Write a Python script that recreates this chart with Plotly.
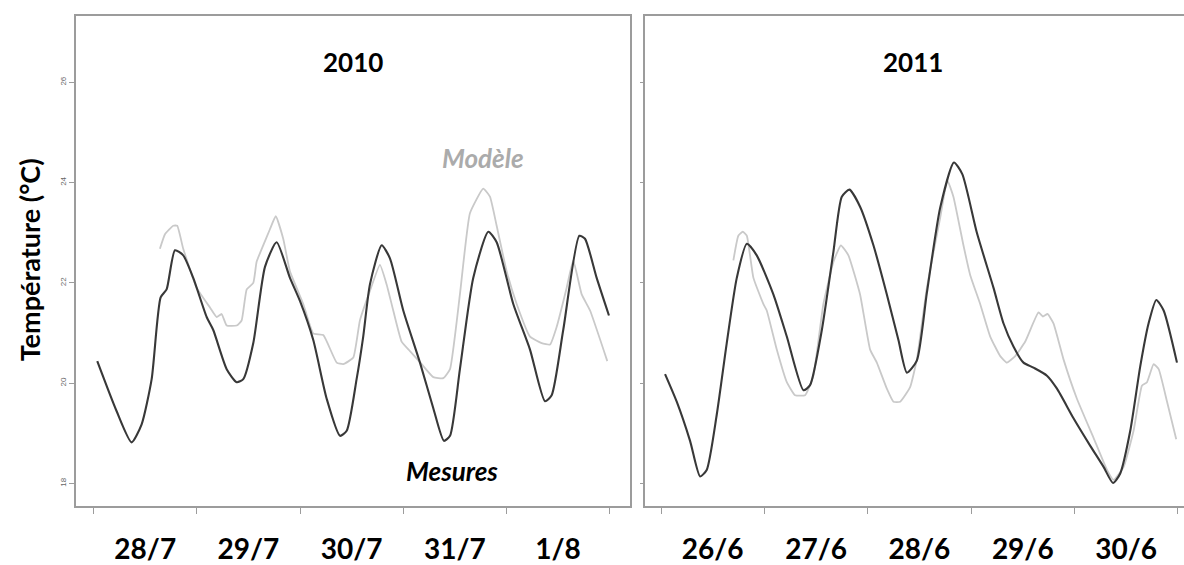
import pandas as pd
import plotly.graph_objects as go

W, H = 1184, 565

# ---- 2010 : time in days from 28/7 00:00 ----
t_mes_2010 = [0.035, 0.223, 0.368, 0.465, 0.562, 0.649, 0.707, 0.788, 0.868, 0.965,
              1.095, 1.159, 1.289, 1.386, 1.450, 1.547, 1.660, 1.773, 1.902, 1.999,
              2.128, 2.258, 2.387, 2.452, 2.548, 2.612, 2.677, 2.791, 2.871, 3.000,
              3.162, 3.291, 3.394, 3.453, 3.549, 3.678, 3.824, 3.905, 4.066, 4.228,
              4.373, 4.438, 4.550, 4.706, 4.761, 4.874, 4.993]
mes_2010 = [20.44, 19.44, 18.82, 19.18, 20.08, 21.71, 21.87, 22.65, 22.55, 22.10,
            21.32, 21.06, 20.28, 20.02, 20.08, 20.80, 22.32, 22.81, 22.10, 21.64,
            20.86, 19.69, 18.95, 19.05, 20.08, 20.93, 21.97, 22.75, 22.49, 21.45,
            20.41, 19.50, 18.85, 18.95, 20.28, 22.10, 23.02, 22.81, 21.58, 20.67,
            19.64, 19.76, 21.06, 22.94, 22.88, 22.10, 21.35]

t_mod_2010 = [0.642, 0.691, 0.771, 0.810, 0.868, 0.998, 1.127, 1.192, 1.240, 1.289,
              1.386, 1.434, 1.483, 1.547, 1.579, 1.643, 1.708, 1.764, 1.837, 1.902,
              2.031, 2.128, 2.225, 2.355, 2.419, 2.516, 2.580, 2.677, 2.774, 2.839,
              2.903, 2.984, 3.065, 3.178, 3.291, 3.388, 3.453, 3.549, 3.646, 3.775,
              3.840, 3.905, 4.002, 4.099, 4.228, 4.341, 4.422, 4.486, 4.583, 4.647,
              4.729, 4.810, 4.977]
mod_2010 = [22.68, 22.97, 23.14, 23.14, 22.68, 21.90, 21.51, 21.32, 21.38, 21.15,
            21.15, 21.25, 21.87, 22.00, 22.42, 22.75, 23.07, 23.33, 22.88, 22.23,
            21.58, 20.99, 20.96, 20.41, 20.38, 20.51, 21.25, 21.84, 22.36, 21.97,
            21.45, 20.83, 20.64, 20.38, 20.12, 20.10, 20.28, 21.77, 23.39, 23.88,
            23.72, 23.14, 22.23, 21.58, 20.93, 20.80, 20.77, 21.12, 21.90, 22.45,
            21.77, 21.45, 20.44]

# ---- 2011 : time in days from 26/6 00:00 ----
t_mes_2011 = [0.039, 0.152, 0.281, 0.378, 0.442, 0.539, 0.636, 0.733, 0.830, 0.926,
              1.087, 1.217, 1.378, 1.442, 1.556, 1.668, 1.749, 1.823, 1.926, 2.055,
              2.185, 2.297, 2.379, 2.475, 2.572, 2.701, 2.834, 2.915, 3.056, 3.217,
              3.314, 3.410, 3.507, 3.604, 3.734, 3.831, 3.991, 4.153, 4.282, 4.373,
              4.443, 4.540, 4.637, 4.717, 4.792, 4.863, 4.992]
mes_2011 = [20.18, 19.63, 18.85, 18.14, 18.27, 19.37, 20.80, 22.10, 22.78, 22.55,
            21.77, 20.93, 19.86, 19.96, 21.06, 22.62, 23.72, 23.86, 23.52, 22.75,
            21.77, 20.86, 20.21, 20.45, 21.80, 23.50, 24.40, 24.17, 23.00, 21.90,
            21.19, 20.73, 20.41, 20.31, 20.15, 19.89, 19.30, 18.75, 18.33, 18.01,
            18.20, 19.05, 20.34, 21.19, 21.66, 21.45, 20.41]

t_mod_2011 = [0.700, 0.748, 0.791, 0.830, 0.894, 0.990, 1.023, 1.120, 1.217, 1.297,
              1.394, 1.474, 1.571, 1.668, 1.740, 1.813, 1.926, 2.023, 2.088, 2.185,
              2.249, 2.314, 2.410, 2.475, 2.572, 2.701, 2.771, 2.829, 2.926, 2.991,
              3.088, 3.185, 3.282, 3.347, 3.427, 3.524, 3.652, 3.695, 3.740, 3.798,
              3.895, 4.024, 4.185, 4.315, 4.379, 4.476, 4.572, 4.653, 4.702, 4.766,
              4.815, 4.896, 4.985]
mod_2011 = [22.45, 22.94, 23.02, 22.94, 22.10, 21.58, 21.45, 20.67, 20.02, 19.76,
            19.76, 20.15, 21.58, 22.42, 22.75, 22.55, 21.77, 20.67, 20.41, 19.89,
            19.63, 19.63, 19.92, 20.47, 21.90, 23.30, 24.04, 23.72, 22.75, 22.16,
            21.58, 20.93, 20.54, 20.41, 20.54, 20.83, 21.41, 21.33, 21.38, 21.19,
            20.47, 19.69, 18.91, 18.27, 18.07, 18.33, 19.05, 19.95, 20.02, 20.38,
            20.28, 19.63, 18.88]

start_2010 = pd.Timestamp("2010-07-28")
start_2011 = pd.Timestamp("2011-06-26")
y_ticks = [18, 20, 22, 24, 26]

FONT = "Lato"
C_MES = "#383838"
C_MOD = "#c9c9c9"
C_AX = "#9c9c9c"


def to_dates(start, days):
    return start + pd.to_timedelta(pd.Series(days), unit="D")


def px_x(v):
    return v / W


def px_y(v):
    return 1 - v / H


fig = go.Figure()

for start, t_mod, v_mod, t_mes, v_mes, ax in [
    (start_2010, t_mod_2010, mod_2010, t_mes_2010, mes_2010, ("x", "y")),
    (start_2011, t_mod_2011, mod_2011, t_mes_2011, mes_2011, ("x2", "y2")),
]:
    fig.add_trace(go.Scatter(x=to_dates(start, t_mod), y=v_mod, mode="lines",
                             line=dict(color=C_MOD, width=1.8, shape="spline", smoothing=0.4),
                             xaxis=ax[0], yaxis=ax[1], showlegend=False))
    fig.add_trace(go.Scatter(x=to_dates(start, t_mes), y=v_mes, mode="lines",
                             line=dict(color=C_MES, width=2.1, shape="spline", smoothing=0.6),
                             xaxis=ax[0], yaxis=ax[1], showlegend=False))

y_dom = [px_y(517), px_y(16)]
common_x = dict(type="date", tickformat="%-d/%-m", dtick=86400000, ticklabelmode="period",
                ticks="outside", ticklen=6, tickcolor=C_AX, tickwidth=1,
                showline=True, linecolor=C_AX, linewidth=1.6, mirror=True,
                showgrid=False, zeroline=False, ticklabelstandoff=12,
                tickfont=dict(family=FONT, size=28, color="#000000", weight="bold"))
common_y = dict(range=[17.55, 27.33], tickvals=y_ticks, ticks="outside", tickcolor=C_AX,
                showline=True, linecolor=C_AX, linewidth=1.6,
                showgrid=False, zeroline=False)

fig.update_layout(
    width=W, height=H, autosize=False,
    margin=dict(l=0, r=0, t=0, b=0),
    paper_bgcolor="white", plot_bgcolor="white",
    xaxis=dict(domain=[px_x(76), px_x(630)], anchor="y",
               tick0=start_2010.strftime("%Y-%m-%d"),
               range=[start_2010 + pd.Timedelta(days=-0.171), start_2010 + pd.Timedelta(days=5.197)],
               **common_x),
    xaxis2=dict(domain=[px_x(645), 1.0], anchor="y2",
                tick0=start_2011.strftime("%Y-%m-%d"),
                range=[start_2011 + pd.Timedelta(days=-0.155), start_2011 + pd.Timedelta(days=5.060)],
                **common_x),
    yaxis=dict(domain=y_dom, anchor="x", mirror=True, ticklen=5, tickangle=-90,
               tickfont=dict(family="Liberation Sans", size=8, color="#666666"),
               **common_y),
    yaxis2=dict(domain=y_dom, anchor="x2", mirror=False, ticklen=3, showticklabels=False,
                **common_y),
)

annotations = [
    dict(text="2010", x=px_x(353), y=px_y(63), font=dict(size=26, color="#000000")),
    dict(text="2011", x=px_x(913), y=px_y(63), font=dict(size=26, color="#000000")),
    dict(text="<i>Modèle</i>", x=px_x(483), y=px_y(161), font=dict(size=26, color="#ababab")),
    dict(text="<i>Mesures</i>", x=px_x(452), y=px_y(481), font=dict(size=26, color="#000000")),
    dict(text="Température (°C)", x=px_x(29), y=px_y(266), textangle=-90,
         font=dict(size=27, color="#000000")),
]
for a in annotations:
    a["font"].update(family=FONT, weight="bold")
    fig.add_annotation(xref="paper", yref="paper", showarrow=False,
                       xanchor="center", yanchor="middle", **a)

fig.write_html("out.html")
